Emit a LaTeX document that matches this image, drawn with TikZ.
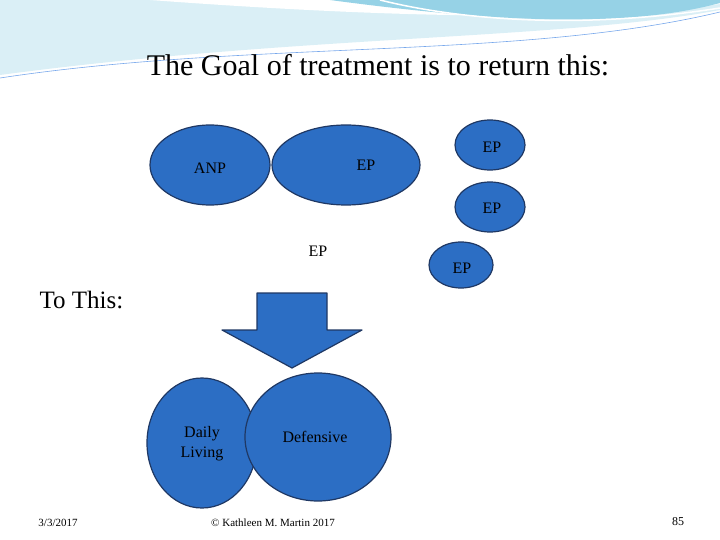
\documentclass[tikz,border=0pt]{standalone}
\usepackage{fontspec}
\setmainfont{Liberation Serif}
\definecolor{partfill}{RGB}{44,110,196}
\definecolor{partedge}{RGB}{31,56,100}
\definecolor{swoosh}{RGB}{150,210,230}
\tikzset{
  part/.style={ellipse, draw=partedge, line width=1.2pt, fill=partfill, inner sep=0pt},
  lbl/.style={font=\fontsize{16}{20}\selectfont, align=center},
}
\usetikzlibrary{shapes.geometric}
\begin{document}
\begin{tikzpicture}[x=1pt,y=-1pt]
\useasboundingbox (0,0) rectangle (720,540);
% top swoosh
\fill[swoosh!35] (0,0) -- (720,0) -- (720,10) .. controls (560,40) and (300,35) .. (0,75) -- cycle;
\fill[white] (150,0) -- (720,0) -- (720,4) .. controls (600,20) and (420,20) .. (150,0) -- cycle;
\fill[swoosh] (330,0) -- (720,0) -- (720,3) .. controls (620,30) and (480,20) .. (330,0) -- cycle;
\draw[swoosh!80!blue, line width=0.6pt] (0,78) .. controls (250,40) and (520,60) .. (720,12);
\draw[white, line width=1.5pt] (380,0) .. controls (460,20) and (580,30) .. (720,8);

\node[font=\fontsize{30}{34}\selectfont] (title) at (378,65) {The Goal of treatment is to return this:};

% this
\node[part, minimum width=120, minimum height=80] (anp) at (210,165) {};
\node[lbl] at (210,168) {ANP};
\node[part, minimum width=148, minimum height=80] (ep1) at (346,165) {};
\node[lbl] at (366,165) {EP};
\node[part, minimum width=70, minimum height=50] (ep2) at (490,145) {};
\node[lbl] at (492,147) {EP};
\node[part, minimum width=70, minimum height=50] (ep3) at (490,207) {};
\node[lbl] at (492,208) {EP};
\node[part, minimum width=64, minimum height=46] (ep4) at (461,265) {};
\node[lbl] at (462,268) {EP};
\node[lbl] (ep5) at (318,251) {EP};

\node[font=\fontsize{25}{29}\selectfont, anchor=west] (tothis) at (36,300) {To This:};

% arrow
\draw[partedge, line width=1.2pt, fill=partfill, line join=round]
  (257,293) -- (327,293) -- (327,330) -- (362,330) -- (292,368) -- (222,330) -- (257,330) -- cycle;

% to this
\node[part, minimum width=110, minimum height=130] (daily) at (202,443) {};
\node[part, minimum width=146, minimum height=128] (def) at (318,437) {};
\node[lbl] at (202,444) {Daily\\Living};
\node[lbl] at (315,437) {Defensive};

% footer
\node[font=\fontsize{11}{13}\selectfont] (date) at (58,523) {3/3/2017};
\node[font=\fontsize{11}{13}\selectfont] (auth) at (273,523) {© Kathleen M. Martin 2017};
\node[font=\fontsize{12}{14}\selectfont] (page) at (678,522) {85};
\end{tikzpicture}
\end{document}
